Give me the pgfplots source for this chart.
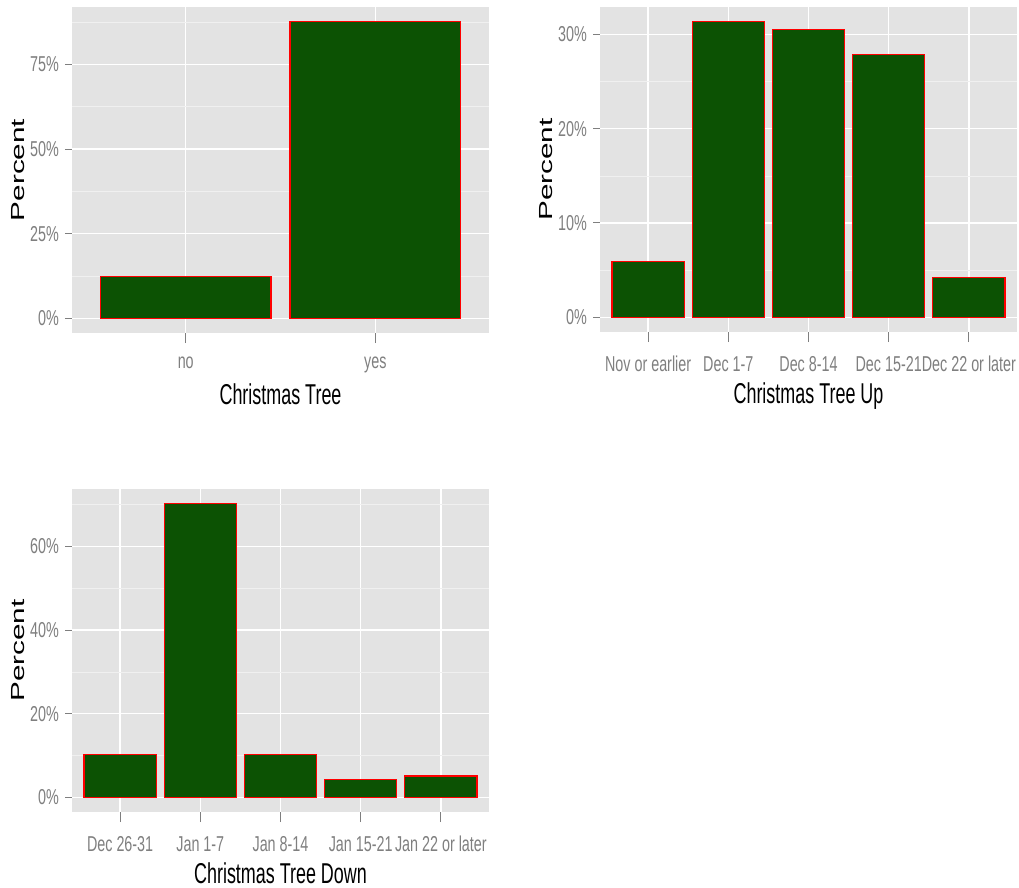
\documentclass[border=0pt]{standalone}
\usepackage{pgfplots}
\pgfplotsset{compat=1.18}
\usepackage{fontspec}
\setmainfont{Liberation Sans}
\definecolor{bg}{HTML}{E3E3E3}
\definecolor{mgrid}{HTML}{F0F0F0}
\definecolor{tk}{HTML}{7F7F7F}
\definecolor{barg}{HTML}{0C5203}
\newcommand{\tl}[1]{\scalebox{1}[1.5]{\fontsize{14.4}{15}\selectfont\color{tk}#1}}
\newcommand{\xt}[1]{\scalebox{1}[1.6]{\fontsize{18}{18}\selectfont #1}}
\newcommand{\yt}[1]{\scalebox{1.57}[1]{\fontsize{19}{19}\selectfont #1}}
\pgfplotsset{gg/.style={
  scale only axis, anchor=north west,
  /pgf/number format/assume math mode=true,
  axis background/.style={fill=bg},
  axis line style={draw=none},
  ybar, bar width=0.9, xmin=0.4,
  tick align=outside, xtick pos=bottom, ytick pos=left,
  major tick length=7bp, minor tick length=0pt,
  tick style={color=tk, line width=1bp},
  xtick style={/pgfplots/major tick length=10bp},
  xmajorgrids, ymajorgrids, yminorgrids,
  major grid style={white, line width=1.3bp},
  minor grid style={mgrid, line width=0.6bp},
  xticklabel style={inner sep=0pt, anchor=north, yshift=-17bp},
  yticklabel style={inner sep=0pt, anchor=east, xshift=-6bp},
  yticklabel={\tl{\pgfmathprintnumber{\tick}\%}},
  every axis x label/.style={at={(axis description cs:0.5,0)}, anchor=base, yshift=-71bp},
  every axis y label/.style={at={(axis description cs:-0.13,0.5)}, anchor=center, rotate=90},
  ylabel={\yt{Percent}},
}}
\begin{document}
\begin{tikzpicture}
\useasboundingbox (0,0) rectangle (1019bp,-888bp);
\begin{axis}[gg, at={(72bp,-7bp)}, width=417bp, height=326bp,
  xmax=2.6, ymin=-4.38, ymax=91.98,
  xtick={1,2}, xticklabels={\tl{no},\tl{yes}},
  ytick={0,25,50,75}, minor ytick={12.5,37.5,62.5,87.5},
  xlabel={\xt{Christmas Tree}}]
\addplot[fill=barg, draw=red, line width=1.3bp] coordinates {(1,12.4) (2,87.6)};
\end{axis}
\begin{axis}[gg, at={(600bp,-7bp)}, width=417bp, height=325bp,
  xmax=5.6, ymin=-1.5675, ymax=32.92,
  xtick={1,2,3,4,5}, xticklabels={\tl{Nov or earlier},\tl{Dec 1-7},\tl{Dec 8-14},\tl{Dec 15-21},\tl{Dec 22 or later}},
  ytick={0,10,20,30}, minor ytick={5,15,25},
  xlabel={\xt{Christmas Tree Up}}]
\addplot[fill=barg, draw=red, line width=1.3bp] coordinates {(1,5.9) (2,31.35) (3,30.5) (4,27.9) (5,4.2)};
\end{axis}
\begin{axis}[gg, at={(72bp,-489bp)}, width=417bp, height=323bp,
  xmax=5.6, ymin=-3.51, ymax=73.71,
  xtick={1,2,3,4,5}, xticklabels={\tl{Dec 26-31},\tl{Jan 1-7},\tl{Jan 8-14},\tl{Jan 15-21},\tl{Jan 22 or later}},
  ytick={0,20,40,60}, minor ytick={10,30,50,70},
  xlabel={\xt{Christmas Tree Down}}]
\addplot[fill=barg, draw=red, line width=1.3bp] coordinates {(1,10.2) (2,70.2) (3,10.2) (4,4.3) (5,5.1)};
\end{axis}
\end{tikzpicture}
\end{document}
